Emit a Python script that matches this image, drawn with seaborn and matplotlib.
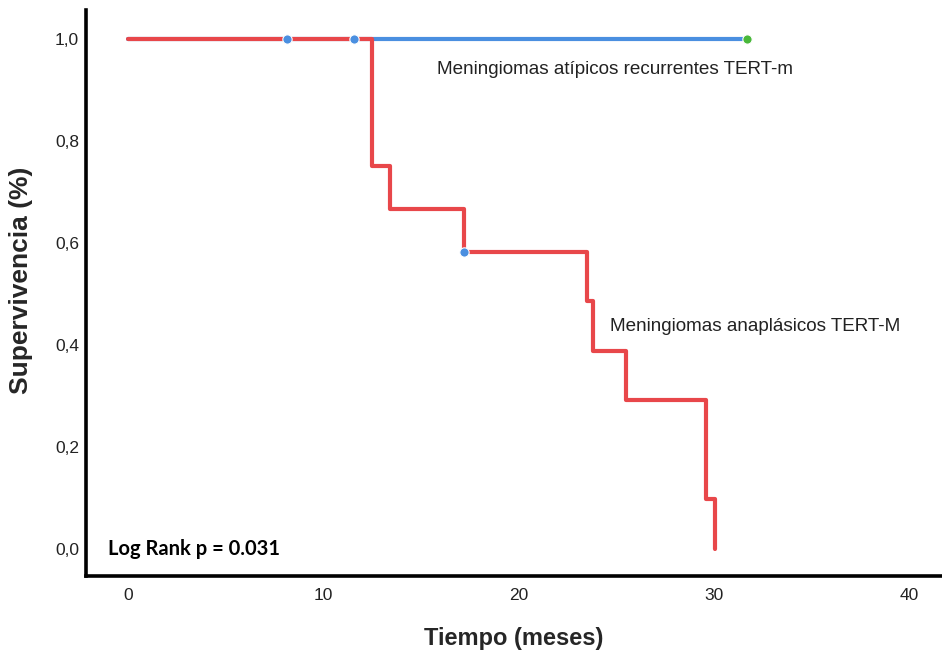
import matplotlib
matplotlib.use("Agg")
import matplotlib.pyplot as plt
import seaborn as sns
import pandas as pd

# Data
red_time = [0, 12.5, 13.4, 17.2, 23.5, 23.8, 25.5, 29.6, 30.05]
red_surv = [1.0, 0.75, 0.667, 0.583, 0.486, 0.389, 0.292, 0.097, 0.0]
red_cens_time = [8.15, 11.6, 17.2]
red_cens_surv = [1.0, 1.0, 0.583]
blue_time = [0, 31.7]
blue_surv = [1.0, 1.0]
blue_cens_time = [31.7]
blue_cens_surv = [1.0]
x_ticks = [0, 10, 20, 30, 40]
y_ticks = [0.0, 0.2, 0.4, 0.6, 0.8, 1.0]
y_ticklabels = ["0,0", "0,2", "0,4", "0,6", "0,8", "1,0"]

sns.set_theme(style="white")
plt.rcParams['font.family'] = ['Liberation Sans', 'DejaVu Sans']

RED = "#E8474A"
BLUE = "#4A8FE0"
GREEN = "#49B83A"

fig = plt.figure(figsize=(9.42, 6.56), dpi=100)
ax = fig.add_axes([0.0913, 0.122, 0.9087, 0.863])

sns.lineplot(x=blue_time, y=blue_surv, drawstyle="steps-post", color=BLUE,
             lw=3.0, estimator=None, sort=False, ax=ax, zorder=2)
sns.lineplot(x=red_time, y=red_surv, drawstyle="steps-post", color=RED,
             lw=3.0, estimator=None, sort=False, ax=ax, zorder=3)
sns.scatterplot(x=red_cens_time, y=red_cens_surv, color=BLUE, s=45,
                edgecolor="white", linewidth=0.8, ax=ax, zorder=4)
sns.scatterplot(x=blue_cens_time, y=blue_cens_surv, color=GREEN, s=45,
                edgecolor="white", linewidth=0.8, ax=ax, zorder=4)

ax.set_xlim(-2.15, 41.7)
ax.set_ylim(-0.053, 1.057)
ax.set_xticks(x_ticks)
ax.set_yticks(y_ticks)
ax.set_yticklabels(y_ticklabels)
ax.tick_params(axis="both", length=0, labelsize=12.5, colors="#222222")
ax.tick_params(axis="x", pad=9)
ax.tick_params(axis="y", pad=5)

for s in ["top", "right"]:
    ax.spines[s].set_visible(False)
for s in ["left", "bottom"]:
    ax.spines[s].set_color("black")
    ax.spines[s].set_linewidth(2.6)

ax.set_xlabel("Tiempo (meses)", fontsize=17, fontweight="bold", labelpad=17)
ax.set_ylabel("Supervivencia (%)", fontsize=19, fontweight="bold")
ax.yaxis.set_label_coords(-0.062, 0.523)

ax.text(15.85, 0.94, "Meningiomas atípicos recurrentes TERT-m", fontsize=13.6,
        color="#222222", va="center", ha="left")
ax.text(24.7, 0.437, "Meningiomas anaplásicos TERT-M", fontsize=13.6,
        color="#222222", va="center", ha="left")
ax.text(-1.0, 0.0, "Log Rank p = 0.031", fontsize=14.5, fontweight="bold",
        family=["Lato", "DejaVu Sans"], color="black", va="center", ha="left")

fig.savefig("out.png", dpi=100)
